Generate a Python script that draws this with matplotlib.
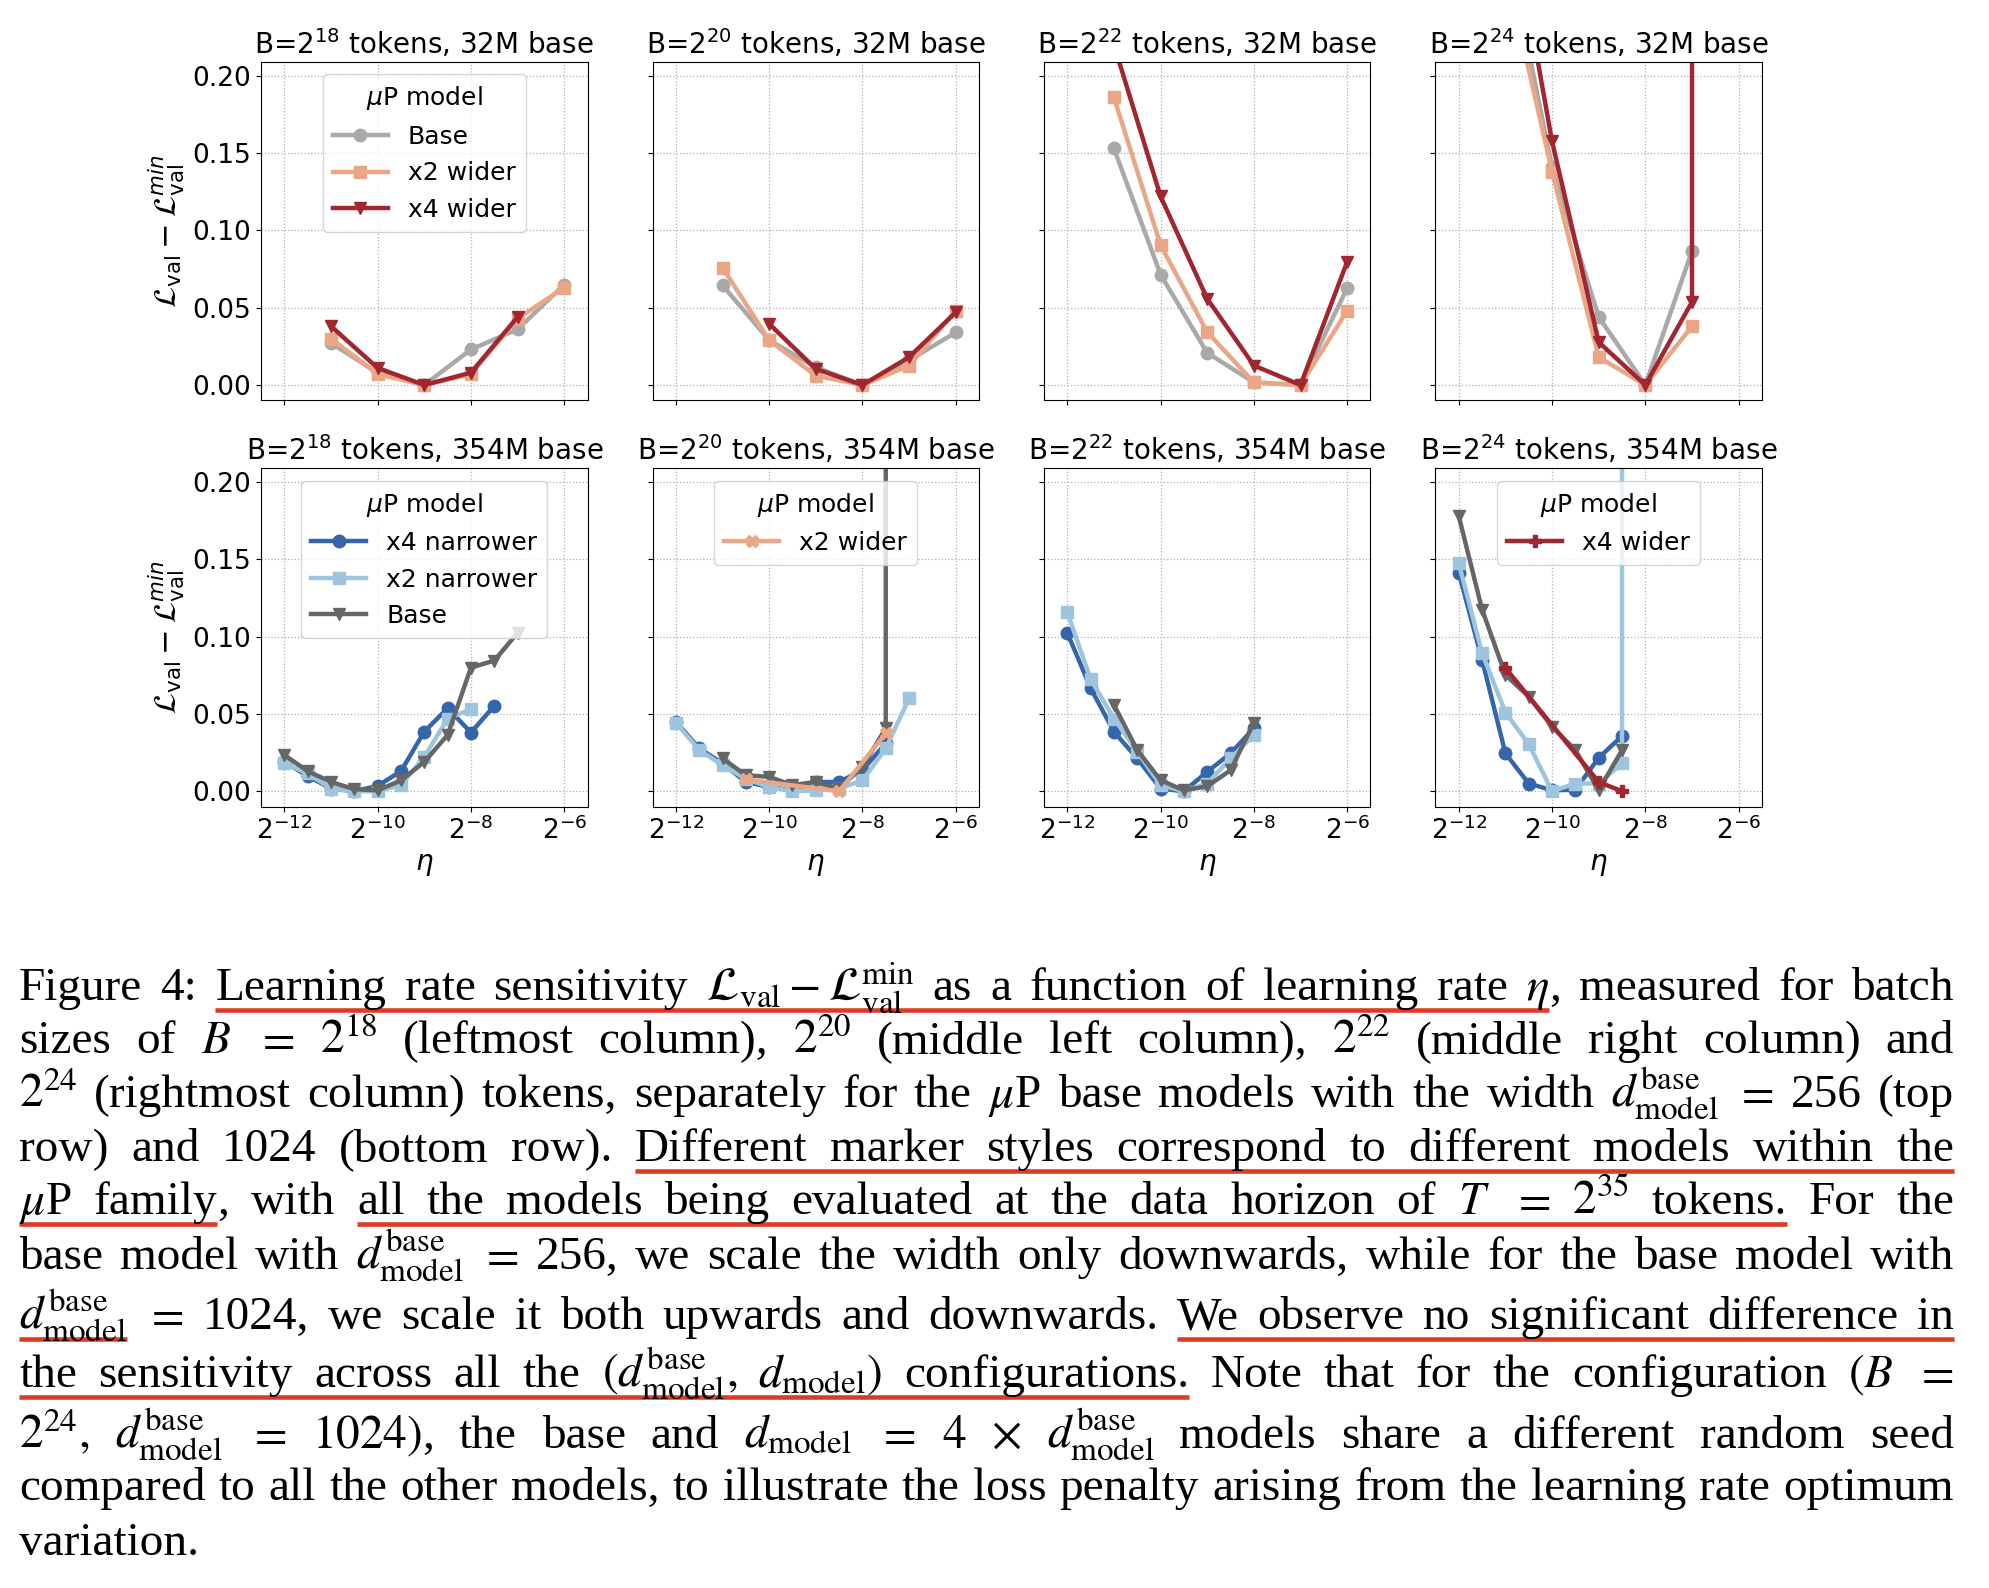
import numpy as np
import matplotlib
matplotlib.use("Agg")
import matplotlib.pyplot as plt
from matplotlib.lines import Line2D
from matplotlib.ticker import NullLocator
from matplotlib.transforms import IdentityTransform

plt.rcParams["font.size"] = 18

# colours of the model families
C_BASE_SMALL = "#a9a9a9"
C_X2_WIDER = "#e9a785"
C_X4_WIDER = "#a2262f"
C_X4_NARROW = "#3565aa"
C_X2_NARROW = "#9dc5de"
C_BASE_BIG = "#666666"

# ---- top row: 32M base (x values are log2 of the learning rate) ----
t18_lr = [-11, -10, -9, -8, -7, -6]
t18_base = [0.027, 0.008, 0.0, 0.023, 0.036, 0.065]
t18_x2 = [0.030, 0.007, 0.0, 0.007, 0.043, 0.063]
t18_x4_lr = [-11, -10, -9, -8, -7]
t18_x4 = [0.038, 0.011, 0.0, 0.008, 0.044]

t20_lr = [-11, -10, -9, -8, -7, -6]
t20_base = [0.0645, 0.029, 0.0115, 0.0, 0.016, 0.034]
t20_x2 = [0.076, 0.029, 0.006, 0.0, 0.0125, 0.048]
t20_x4_lr = [-10, -9, -8, -7, -6]
t20_x4 = [0.0396, 0.0104, 0.0, 0.018, 0.047]

t22_lr = [-11, -10, -9, -8, -7, -6]
t22_base = [0.153, 0.0714, 0.0208, 0.0017, 0.0, 0.0628]
t22_x2 = [0.186, 0.0905, 0.0342, 0.0017, 0.0, 0.048]
t22_x4 = [0.22, 0.122, 0.0558, 0.0126, 0.0, 0.0797]

t24_lr = [-11, -10, -9, -8, -7]
t24_base = [0.29, 0.141, 0.044, 0.0, 0.0866]
t24_x2 = [0.27, 0.138, 0.018, 0.0, 0.038]
t24_x4_lr = [-11, -10, -9, -8, -7, -7]
t24_x4 = [0.327, 0.1576, 0.0277, 0.0, 0.0537, 0.6]

# ---- bottom row: 354M base ----
b18_x4n_lr = [-12, -11.5, -11, -10.5, -10, -9.5, -9, -8.5, -8, -7.5]
b18_x4n = [0.019, 0.0098, 0.0017, 0.0, 0.0035, 0.013, 0.0386, 0.0537, 0.038, 0.0553]
b18_x2n_lr = [-12, -11.5, -11, -10.5, -10, -9.5, -9, -8.5, -8]
b18_x2n = [0.018, 0.0115, 0.0017, 0.0, 0.0, 0.004, 0.0223, 0.047, 0.053]
b18_base_lr = [-12, -11.5, -11, -10.5, -10, -9.5, -9, -8.5, -8, -7.5, -7]
b18_base = [0.0234, 0.013, 0.006, 0.0013, 0.0006, 0.007, 0.019, 0.0364, 0.080, 0.0845, 0.1025]

b20_x4n_lr = [-12, -11.5, -11, -10.5, -10, -9.5, -9, -8.5, -8, -7.5]
b20_x4n = [0.045, 0.0277, 0.018, 0.006, 0.0028, 0.0006, 0.006, 0.006, 0.0136, 0.031]
b20_x2n_lr = [-12, -11.5, -11, -10.5, -10, -9.5, -9, -8.5, -8, -7.5, -7]
b20_x2n = [0.0444, 0.0266, 0.0169, 0.008, 0.0028, 0.0, 0.0006, 0.0017, 0.007, 0.0277, 0.060]
b20_base_lr = [-11, -10.5, -10, -9.5, -9, -8.5, -8, -7.5, -7.5]
b20_base = [0.0212, 0.0104, 0.0093, 0.004, 0.006, 0.0017, 0.0158, 0.0407, 0.6]
b20_x2w_lr = [-10.5, -8.5, -7.5]
b20_x2w = [0.0076, 0.0, 0.0374]

b22_lr = [-12, -11.5, -11, -10.5, -10, -9.5, -9, -8.5, -8]
b22_x4n = [0.1024, 0.0667, 0.0385, 0.0212, 0.0017, 0.0, 0.0126, 0.0245, 0.0407]
b22_x2n = [0.1158, 0.0725, 0.047, 0.0255, 0.004, 0.0, 0.005, 0.0212, 0.0364]
b22_base_lr = [-11, -10.5, -10, -9.5, -9, -8.5, -8]
b22_base = [0.0558, 0.0266, 0.0071, 0.0006, 0.0032, 0.0136, 0.0444]

b24_lr = [-12, -11.5, -11, -10.5, -10, -9.5, -9, -8.5]
b24_x4n = [0.1413, 0.085, 0.0245, 0.005, 0.0006, 0.001, 0.0216, 0.0357]
b24_x2n_lr = [-12, -11.5, -11, -10.5, -10, -9.5, -9, -8.5, -8.5]
b24_x2n = [0.1474, 0.0894, 0.0509, 0.0305, 0.0, 0.005, 0.005, 0.018, 0.6]
b24_base = [0.178, 0.1175, 0.0753, 0.0612, 0.0418, 0.0266, 0.0006, 0.0266]
b24_x4w_lr = [-11, -9, -8.5]
b24_x4w = [0.0797, 0.006, 0.0]

batch_exps = ["18", "20", "22", "24"]
xtick_exps = [-12, -10, -8, -6]
yticks = [0.0, 0.05, 0.10, 0.15, 0.20]


def draw(ax, lr, vals, color, marker, label=None):
    ax.plot(np.exp2(lr), vals, color=color, marker=marker, lw=3.2, ms=9,
            label=label)


fig, axes = plt.subplots(2, 4, figsize=(19.9, 15.88), dpi=100,
                         sharex=True, sharey=True)
fig.subplots_adjust(left=0.1312, right=0.8854, top=0.961, bottom=0.492,
                    wspace=0.199, hspace=0.2)

top = axes[0]
draw(top[0], t18_lr, t18_base, C_BASE_SMALL, "o", "Base")
draw(top[0], t18_lr, t18_x2, C_X2_WIDER, "s", "x2 wider")
draw(top[0], t18_x4_lr, t18_x4, C_X4_WIDER, "v", "x4 wider")

draw(top[1], t20_lr, t20_base, C_BASE_SMALL, "o")
draw(top[1], t20_lr, t20_x2, C_X2_WIDER, "s")
draw(top[1], t20_x4_lr, t20_x4, C_X4_WIDER, "v")

draw(top[2], t22_lr, t22_base, C_BASE_SMALL, "o")
draw(top[2], t22_lr, t22_x2, C_X2_WIDER, "s")
draw(top[2], t22_lr, t22_x4, C_X4_WIDER, "v")

draw(top[3], t24_lr, t24_base, C_BASE_SMALL, "o")
draw(top[3], t24_lr, t24_x2, C_X2_WIDER, "s")
draw(top[3], t24_x4_lr, t24_x4, C_X4_WIDER, "v")

bot = axes[1]
draw(bot[0], b18_x4n_lr, b18_x4n, C_X4_NARROW, "o", "x4 narrower")
draw(bot[0], b18_x2n_lr, b18_x2n, C_X2_NARROW, "s", "x2 narrower")
draw(bot[0], b18_base_lr, b18_base, C_BASE_BIG, "v", "Base")

draw(bot[1], b20_x4n_lr, b20_x4n, C_X4_NARROW, "o")
draw(bot[1], b20_x2n_lr, b20_x2n, C_X2_NARROW, "s")
draw(bot[1], b20_base_lr, b20_base, C_BASE_BIG, "v")
draw(bot[1], b20_x2w_lr, b20_x2w, C_X2_WIDER, "X", "x2 wider")

draw(bot[2], b22_lr, b22_x4n, C_X4_NARROW, "o")
draw(bot[2], b22_lr, b22_x2n, C_X2_NARROW, "s")
draw(bot[2], b22_base_lr, b22_base, C_BASE_BIG, "v")

draw(bot[3], b24_lr, b24_x4n, C_X4_NARROW, "o")
draw(bot[3], b24_x2n_lr, b24_x2n, C_X2_NARROW, "s")
draw(bot[3], b24_lr, b24_base, C_BASE_BIG, "v")
draw(bot[3], b24_x4w_lr, b24_x4w, C_X4_WIDER, "P", "x4 wider")

for ax in axes.flat:
    ax.set_xscale("log", base=2)
ax0 = axes[0, 0]
ax0.set_xlim(2.0 ** -12.5, 2.0 ** -5.5)
ax0.set_ylim(-0.01, 0.209)
ax0.set_xticks([2.0 ** e for e in xtick_exps])
ax0.set_xticklabels([f"$2^{{{e}}}$" for e in xtick_exps])
ax0.xaxis.set_minor_locator(NullLocator())
ax0.set_yticks(yticks)
ax0.set_yticklabels([f"{v:.2f}" for v in yticks])
for ax in axes.flat:
    ax.tick_params(labelsize=19)

for r, size in enumerate(["32M", "354M"]):
    for c, be in enumerate(batch_exps):
        ax = axes[r, c]
        ax.set_title(f"B=$2^{{{be}}}$ tokens, {size} base", fontsize=20)
        ax.grid(True, linestyle=":", color="#b0b0b0", lw=0.9)
    axes[r, 0].set_ylabel(r"$\mathcal{L}_{\mathrm{val}} - \mathcal{L}_{\mathrm{val}}^{min}$",
                          fontsize=22)
for c in range(4):
    axes[1, c].set_xlabel(r"$\eta$", fontsize=20)

for ax in [axes[0, 0], axes[1, 0], axes[1, 1], axes[1, 3]]:
    ax.legend(title=r"$\mu$P model", loc="upper center", fontsize=18,
              title_fontsize=18, handlelength=2.2)

# ---- caption, justified line by line; [ ] marks a red underline ----
D_BASE = r"$d_{\mathrm{model}}^{\mathrm{base}}$"
CAPTION = [
    r"Figure 4: [Learning rate sensitivity $\mathcal{L}_{\mathrm{val}}-\mathcal{L}_{\mathrm{val}}^{\mathrm{min}}$ as a function of learning rate $\eta$], measured for batch",
    r"sizes of $B$ $=$ $2^{18}$ (leftmost column), $2^{20}$ (middle left column), $2^{22}$ (middle right column) and",
    r"$2^{24}$ (rightmost column) tokens, separately for the $\mu$P base models with the width " + D_BASE + r" $=$ 256 (top",
    r"row) and 1024 (bottom row). [Different marker styles correspond to different models within the]",
    r"[$\mu$P family], with [all the models being evaluated at the data horizon of $T$ $=$ $2^{35}$ tokens.] For the",
    r"base model with " + D_BASE + r" $=$ 256, we scale the width only downwards, while for the base model with",
    "[" + D_BASE + r"] $=$ 1024, we scale it both upwards and downwards. [We observe no significant difference in]",
    r"[the sensitivity across all the $(d_{\mathrm{model}}^{\mathrm{base}},$ $d_{\mathrm{model}})$ configurations.] Note that for the configuration $(B$ $=$",
    r"$2^{24},$ " + D_BASE + r" $=$ $1024)$, the base and $d_{\mathrm{model}}$ $=$ $4$ $\times$ " + D_BASE + r" models share a different random seed",
    r"compared to all the other models, to illustrate the loss penalty arising from the learning rate optimum",
    r"variation.",
]
BASELINES = [1000, 1053, 1107, 1161, 1214, 1269, 1329, 1387, 1448, 1500, 1555]
LEFT, RIGHT = 19, 1954
H = 1588
UL_COLOR = "#de3b26"
UL_DROP = 10


def parse(line):
    words, state = [], False
    for w in line.split(" "):
        pieces, buf = [], ""
        for ch in w:
            if ch in "[]":
                if buf:
                    pieces.append((buf, state))
                buf, state = "", ch == "["
            else:
                buf += ch
        if buf:
            pieces.append((buf, state))
        if pieces:
            words.append(pieces)
    return words


parsed = [parse(l) for l in CAPTION]
renderer = fig.canvas.get_renderer()


def make(s, fs, x=0, y=0):
    return fig.text(x, y, s, fontsize=fs, family="Liberation Serif",
                    math_fontfamily="stix", ha="left", va="baseline",
                    transform=IdentityTransform())


def widths(fs):
    out = []
    for words in parsed:
        ws = []
        for pieces in words:
            pw = []
            for s, _ in pieces:
                t = make(s, fs)
                pw.append(t.get_window_extent(renderer).width)
                t.remove()
            ws.append(pw)
        out.append(ws)
    return out


def underline(x0, x1, yb):
    fig.add_artist(Line2D([x0, x1], [yb - UL_DROP, yb - UL_DROP],
                          transform=IdentityTransform(), color=UL_COLOR,
                          lw=3.3, solid_capstyle="butt"))


fs0 = 34
w0 = widths(fs0)
scale = 1.0
for ws in w0[:-1]:
    need = sum(sum(p) for p in ws) + 0.13 * fs0 * 100 / 72 * (len(ws) - 1)
    scale = min(scale, (RIGHT - LEFT) / need)
fs = fs0 * scale
wl = widths(fs)
space = 0.25 * fs * 100 / 72

for i, (words, ws) in enumerate(zip(parsed, wl)):
    yb = H - BASELINES[i]
    total = sum(sum(p) for p in ws)
    if i < len(parsed) - 1 and len(words) > 1:
        gap = (RIGHT - LEFT - total) / (len(words) - 1)
    else:
        gap = space
    x = LEFT
    ul_start = None
    prev_end = None
    for pieces, pw in zip(words, ws):
        for (s, ul), w in zip(pieces, pw):
            make(s, fs, x, yb)
            if ul and ul_start is None:
                ul_start = x
            if not ul and ul_start is not None:
                underline(ul_start, prev_end, yb)
                ul_start = None
            x += w
            prev_end = x
        x += gap
    if ul_start is not None:
        underline(ul_start, prev_end, yb)

fig.savefig("out.png", dpi=100)
print("font size", fs)
